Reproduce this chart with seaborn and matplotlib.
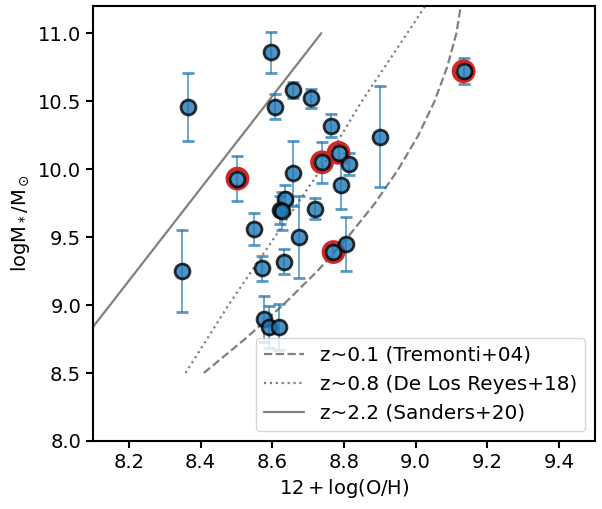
import numpy as np
import pandas as pd
import seaborn as sns
import matplotlib.pyplot as plt

# galaxy sample: metallicity, stellar mass, mass error, flagged (red ring)
oh = [8.364, 8.596, 8.607, 8.657, 8.707, 8.763, 8.900, 8.503, 8.657, 8.739,
      8.785, 8.815, 8.793, 8.637, 8.621, 8.627, 8.720, 8.674, 8.550, 8.805,
      8.771, 8.572, 8.632, 8.348, 8.576, 8.590, 8.618, 9.134]
logm = [10.46, 10.86, 10.46, 10.58, 10.52, 10.32, 10.24, 9.93, 9.97, 10.05,
        10.12, 10.04, 9.88, 9.78, 9.70, 9.69, 9.71, 9.50, 9.56, 9.45,
        9.39, 9.27, 9.32, 9.25, 8.90, 8.84, 8.84, 10.72]
logm_err = [0.25, 0.15, 0.09, 0.06, 0.07, 0.085, 0.37, 0.165, 0.24, 0.15,
            0.05, 0.08, 0.17, 0.10, 0.10, 0.14, 0.08, 0.30, 0.115, 0.20,
            0.05, 0.09, 0.095, 0.30, 0.17, 0.155, 0.17, 0.095]
flagged = [False, False, False, False, False, False, False, True, False, True,
           True, False, False, False, False, False, False, False, False, False,
           True, False, False, False, False, False, False, True]

# literature relations
tremonti_m = [8.5, 8.75, 9.0, 9.25, 9.5, 9.75, 10.0, 10.25, 10.5, 10.75, 11.0, 11.25]
tremonti_oh = [8.409, 8.524, 8.630, 8.726, 8.811, 8.887, 8.952, 9.008, 9.053, 9.088, 9.114, 9.129]
reyes_m = [8.5, 9.0, 9.5, 10.0, 10.5, 11.0, 11.2]
reyes_oh = [8.358, 8.478, 8.607, 8.736, 8.850, 8.977, 9.027]
sanders_m = [8.5, 11.0]
sanders_oh = [8.0, 8.737]

df = pd.DataFrame({"oh": oh, "logm": logm, "err": logm_err, "flag": flagged})

sns.set_style("ticks", {"axes.edgecolor": "black", "xtick.color": "black",
                        "ytick.color": "black", "text.color": "black",
                        "axes.labelcolor": "black"})
plt.rcParams['font.family'] = ['DejaVu Sans']
plt.rcParams['mathtext.fontset'] = 'dejavusans'

fig = plt.figure(figsize=(6.02, 5.09), dpi=100)
ax = fig.add_axes([0.1545, 0.1336, 0.8335, 0.8546])

# relations
sns.lineplot(x=tremonti_oh, y=tremonti_m, sort=False, estimator=None, color='gray',
             linestyle='--', linewidth=1.6, label='z~0.1 (Tremonti+04)', ax=ax)
sns.lineplot(x=reyes_oh, y=reyes_m, sort=False, estimator=None, color='gray',
             linestyle=':', linewidth=1.6, label='z~0.8 (De Los Reyes+18)', ax=ax)
sns.lineplot(x=sanders_oh, y=sanders_m, sort=False, estimator=None, color='gray',
             linestyle='-', linewidth=1.6, label='z~2.2 (Sanders+20)', ax=ax)

# error bars
ax.errorbar(df.oh, df.logm, yerr=df.err, fmt='none', ecolor='tab:blue',
            elinewidth=1.2, capsize=4, capthick=2, alpha=0.75, zorder=2)

# red rings for flagged objects
sel = df[df.flag]
sns.scatterplot(data=sel, x='oh', y='logm', s=200, facecolor='none',
                edgecolor='#d62728', linewidth=3, zorder=3, ax=ax)

# all points
sns.scatterplot(data=df, x='oh', y='logm', s=115, color='tab:blue',
                edgecolor='black', linewidth=2, alpha=0.8, zorder=4, ax=ax)

ax.set_xlim(8.1, 9.5)
ax.set_ylim(8.0, 11.2)
ax.set_xticks([8.2, 8.4, 8.6, 8.8, 9.0, 9.2, 9.4])
ax.set_yticks([8.0, 8.5, 9.0, 9.5, 10.0, 10.5, 11.0])
ax.tick_params(labelsize=14, width=1.5, length=5)
for s in ax.spines.values():
    s.set_linewidth(1.5)
    s.set_color('black')

ax.set_xlabel(r'$12 + \log({\rm O/H})$', fontsize=14)
ax.set_ylabel(r'$\rm logM_*/M_\odot$', fontsize=14)
ax.legend(loc='lower right', fontsize=14.4)

fig.savefig('out.png', dpi=100)
